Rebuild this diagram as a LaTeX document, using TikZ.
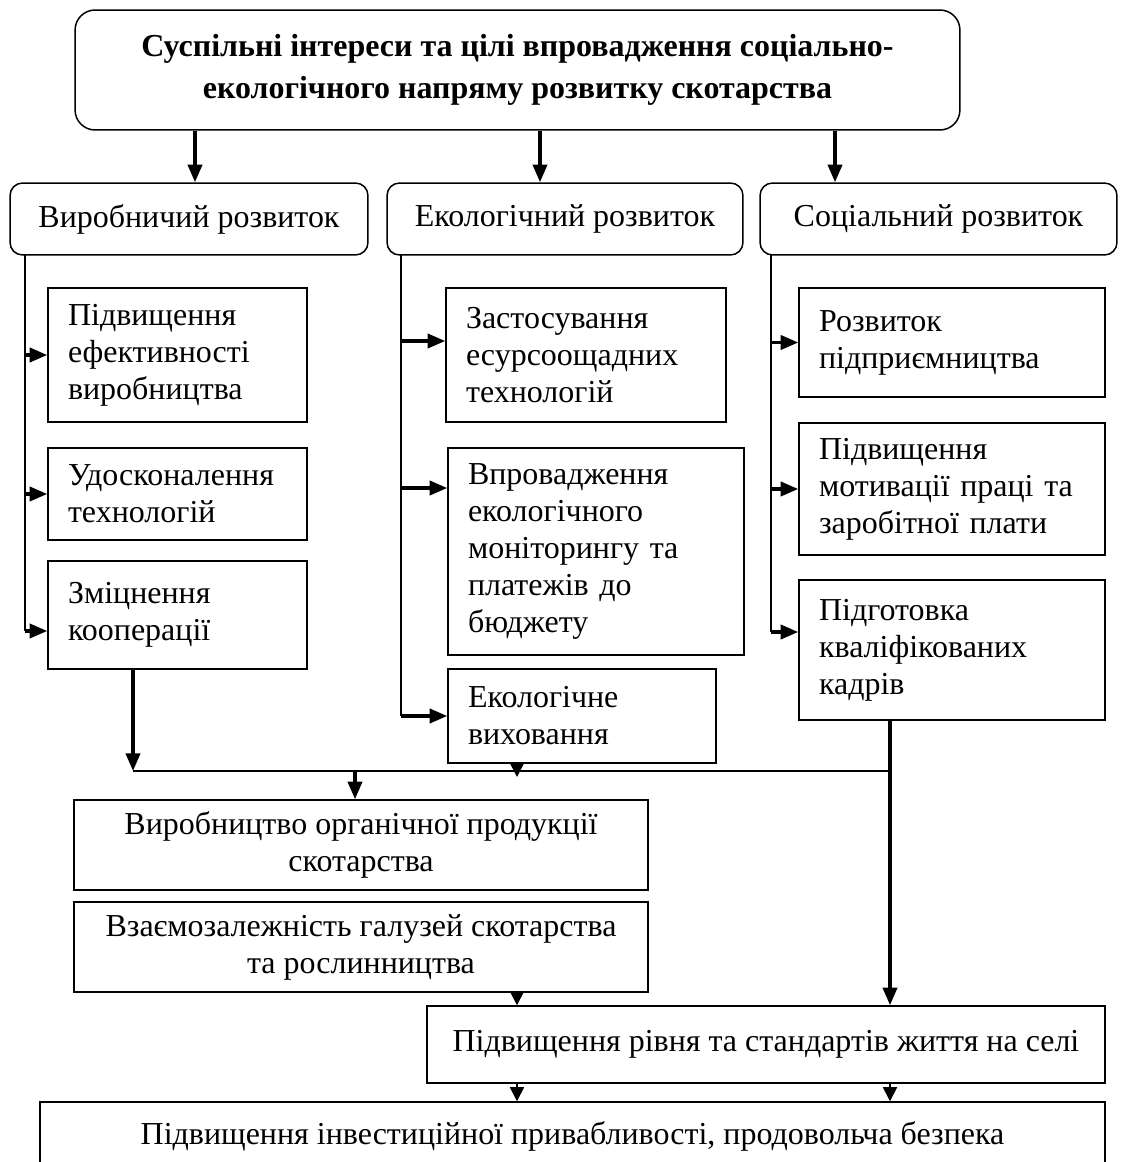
\documentclass[tikz,border=0pt]{standalone}
\usepackage{fontspec}
\setmainfont{Liberation Serif}
\usetikzlibrary{arrows.meta}

\begin{document}
\begin{tikzpicture}[x=0.02cm, y=-0.02cm,
        txt/.style={font=\fontsize{18.2}{21}\selectfont},
        head/.style={draw, rounded corners=0.4cm, line width=0.85pt, align=center, font=\fontsize{18.2}{24}\selectfont\bfseries},
        branch/.style={draw, rounded corners=0.25cm, line width=0.85pt, minimum width=#1, minimum height=1.44cm, txt},
        item/.style={draw, rectangle, line width=0.85pt, align=left, inner xsep=0.4cm, text width=#1, txt},
        result/.style={draw, rectangle, line width=0.85pt, align=center, minimum width=#1, txt},
        rail/.style={line width=0.9pt},
        arr/.style={line width=2pt, -{Triangle[width=8pt,length=10pt]}},
        tip/.style={line width=0.9pt, -{Triangle[width=8pt,length=8pt]}}
    ]
        \useasboundingbox (0,0) rectangle (1121,1162);

        % Goal (top box)
        \node[head, minimum width=17.7cm, minimum height=2.4cm] (goal) at (517.5,70)
            {Суспільні інтереси та цілі впровадження соціально-\\екологічного напряму розвитку скотарства};

        % Three directions
        \node[branch=7.16cm] (vyr) at (189,219) {Виробничий розвиток};
        \node[branch=7.12cm] (eko) at (565,219) {Екологічний розвиток};
        \node[branch=7.14cm] (soc) at (938.5,219) {Соціальний розвиток};

        % --- Production column ---
        \node[item=4.38cm, minimum height=2.68cm] (vyr1) at (177.5,355) {Підвищення\\ефективності\\виробництва};
        \node[item=4.38cm, minimum height=1.84cm] (vyr2) at (177.5,494) {Удосконалення\\технологій};
        \node[item=4.38cm, minimum height=2.16cm] (vyr3) at (177.5,615) {Зміцнення\\кооперації};

        % --- Ecology column ---
        \node[item=4.8cm, minimum height=2.68cm] (eko1) at (586,355) {Застосування\\есурсоощадних\\технологій};
        \node[item=5.12cm, minimum height=4.14cm] (eko2) at (596,551.5) {Впровадження\\екологічного\\моніторингу та\\платежів до\\бюджету};
        \node[item=4.56cm, minimum height=1.88cm] (eko3) at (582,716) {Екологічне\\виховання};

        % --- Social column ---
        \node[item=5.32cm, minimum height=2.18cm] (soc1) at (952,342.5) {Розвиток\\підприємництва};
        \node[item=5.32cm, minimum height=2.64cm] (soc2) at (952,489) {Підвищення\\мотивації праці та\\заробітної плати};
        \node[item=5.32cm, minimum height=2.8cm] (soc3) at (952,650) {Підготовка\\кваліфікованих\\кадрів};

        % --- Results ---
        \node[result=11.48cm, minimum height=1.8cm] (org) at (361,845) {Виробництво органічної продукції\\скотарства};
        \node[result=11.48cm, minimum height=1.8cm] (inter) at (361,947) {Взаємозалежність галузей скотарства\\та рослинництва};
        \node[result=13.56cm, minimum height=1.54cm] (life) at (766,1044.5) {Підвищення рівня та стандартів життя на селі};
        \node[result=21.3cm, minimum height=1.36cm] (invest) at (572.5,1136) {Підвищення інвестиційної привабливості, продовольча безпека};

        % Goal -> directions
        \coordinate (g1) at ([xshift=0.12cm]vyr.north);
        \coordinate (g2) at ([xshift=-0.5cm]eko.north);
        \coordinate (g3) at ([xshift=-2.07cm]soc.north);
        \draw[arr] (g1 |- goal.south) -- (g1);
        \draw[arr] (g2 |- goal.south) -- (g2);
        \draw[arr] (g3 |- goal.south) -- (g3);

        % Rails
        \coordinate (vrail) at (25,255);
        \coordinate (mrail) at (401,255);
        \coordinate (srail) at (771,255);

        \draw[rail] (vrail) -- ([yshift=-0.32cm]vyr3.west -| vrail);
        \draw[arr] (vrail |- vyr1.west) -- (vyr1.west);
        \draw[arr] (vrail |- vyr2.west) -- (vyr2.west);
        \draw[arr] ([yshift=-0.32cm]vyr3.west -| vrail) -- ([yshift=-0.32cm]vyr3.west);

        \draw[rail] (mrail) -- (eko3.west -| mrail);
        \draw[arr] ([yshift=0.28cm]eko1.west -| mrail) -- ([yshift=0.28cm]eko1.west);
        \draw[arr] ([yshift=1.27cm]eko2.west -| mrail) -- ([yshift=1.27cm]eko2.west);
        \draw[arr] (mrail |- eko3.west) -- (eko3.west);

        \draw[rail] (srail) -- ([yshift=0.36cm]soc3.west -| srail);
        \draw[arr] (srail |- soc1.west) -- (soc1.west);
        \draw[arr] (srail |- soc2.west) -- (soc2.west);
        \draw[arr] ([yshift=0.36cm]soc3.west -| srail) -- ([yshift=0.36cm]soc3.west);

        % Collecting line
        \coordinate (busL) at (133,771);
        \coordinate (busO) at (355,771);
        \coordinate (busE) at (517,771);
        \coordinate (busR) at (890,771);
        \draw[arr] (vyr3.south -| busL) -- (busL);
        \draw[rail] (busL) -- (busR);
        \draw[arr] (soc3.south -| busR) -- (life.north -| busR);
        \draw[arr] (busO) -- (org.north -| busO);
        \draw[tip] (eko3.south -| busE) -- ([yshift=-0.12cm]busE);

        % Results chain
        \draw[tip] (inter.south -| busE) -- (life.north -| busE);
        \draw[tip] (life.south -| busE) -- (invest.north -| busE);
        \draw[tip] (life.south -| busR) -- (invest.north -| busR);
    \end{tikzpicture}
\end{document}
